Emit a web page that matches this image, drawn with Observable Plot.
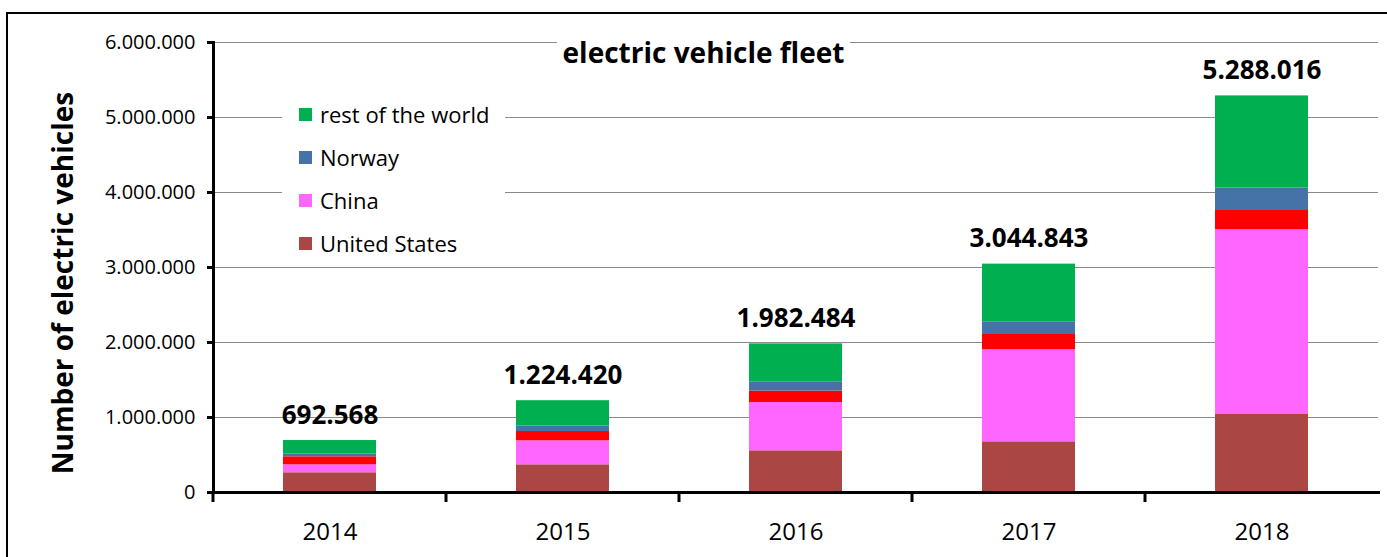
<!DOCTYPE html>
<html><head><meta charset="utf-8">
<script src="https://cdn.jsdelivr.net/npm/d3@7"></script>
<script src="https://cdn.jsdelivr.net/npm/@observablehq/plot@0.6"></script>
<style>
body{margin:0;background:#fff;font-family:"Open Sans",sans-serif;}
#wrap{position:relative;width:1387px;height:557px;overflow:hidden;background:#fff;}
#frame{position:absolute;left:6px;top:12px;width:2000px;height:2000px;border-left:2px solid #000;border-top:2px solid #000;pointer-events:none;}
#title{position:absolute;left:557px;top:35px;width:293px;height:34px;line-height:34px;background:#fff;text-align:center;font-weight:700;font-size:28px;color:#000;white-space:nowrap;}
#legend{position:absolute;left:282px;top:95px;width:223px;height:167px;background:#fff;}
.item{position:absolute;left:0;height:30px;line-height:30px;font-size:22px;color:#000;white-space:nowrap;}
.sw{position:absolute;left:17px;top:8.5px;width:13px;height:13px;}
.lab{position:absolute;left:38px;top:0;}
</style></head><body><div id="wrap"></div>
<script>
// ---- data ----
const years = ["2014", "2015", "2016", "2017", "2018"];
const unitedStates = [263000, 369000, 556000, 676000, 1040000];
const china = [106000, 320000, 644000, 1227000, 2463000];
const japan = [107000, 124000, 152000, 204000, 257000]; // red segment (not in legend)
const norway = [36000, 72000, 124000, 169000, 299000];
const restOfWorld = [181000, 339000, 506000, 769000, 1229000];
const totals = [692568, 1224420, 1982484, 3044843, 5288016];
const seriesNames = ["United States", "China", "Japan", "Norway", "rest of the world"];
const seriesColors = ["#AA4643", "#FF66FF", "#FF0000", "#4572A7", "#00B050"];
const legendItems = ["rest of the world", "Norway", "China", "United States"];
const yTicks = [0, 1000000, 2000000, 3000000, 4000000, 5000000, 6000000];
const chartTitle = "electric vehicle fleet";
const yTitle = "Number of electric vehicles";

const seriesValues = [unitedStates, china, japan, norway, restOfWorld];
const table = [];
seriesNames.forEach((s, i) => years.forEach((y, j) => table.push({year: y, series: s, value: seriesValues[i][j]})));
const totalTable = years.map((y, j) => ({year: y, total: totals[j]}));

const loc = d3.formatLocale({decimal: ",", thousands: ".", grouping: [3], currency: ["", "€"]});
const fmt = loc.format(",");

const chart = Plot.plot({
  width: 1387, height: 557,
  marginLeft: 213, marginRight: 9, marginTop: 42, marginBottom: 65,
  style: {fontFamily: "Open Sans", background: "white", color: "#000"},
  x: {domain: years, paddingInner: 0.6, paddingOuter: 0.3, axis: null},
  y: {domain: [0, 6000000], axis: null},
  color: {domain: seriesNames, range: seriesColors},
  marks: [
    Plot.ruleY(yTicks.slice(1), {stroke: "#8a8a8a", strokeWidth: 1}),
    Plot.barY(table, {x: "year", y: "value", fill: "series", order: null}),
    Plot.axisY({ticks: yTicks, tickSize: 6, tickPadding: 12, tickFormat: fmt, fontSize: 20, strokeWidth: 3, label: null}),
    Plot.axisX({tickSize: 0, tickPadding: 30, fontSize: 24, label: null}),
    Plot.frame({anchor: "left", strokeWidth: 3}),
    Plot.frame({anchor: "bottom", strokeWidth: 3}),
    Plot.text(totalTable, {x: "year", y: "total", text: d => fmt(d.total), lineAnchor: "bottom", dy: -17, fontSize: 26, fontWeight: "bold", fill: "#000"}),
    Plot.text([yTitle], {frameAnchor: "left", textAnchor: "middle", lineAnchor: "middle", rotate: -90, dx: -149.5, dy: 15.5, fontSize: 28, fontWeight: "bold", fill: "#000"})
  ]
});

// band-boundary ticks on the x axis, from the plot's own scales
const xs = chart.scale("x"), ys = chart.scale("y");
const step = xs.apply(years[1]) - xs.apply(years[0]);
const gap = step - xs.bandwidth;
const bounds = years.map(y => xs.apply(y) - gap / 2);
const y0 = ys.apply(0);
d3.select(chart).append("g").selectAll("line").data(bounds).join("line")
  .attr("x1", d => d).attr("x2", d => d).attr("y1", y0).attr("y2", y0 + 10)
  .attr("stroke", "#000").attr("stroke-width", 3);

const wrap = document.getElementById("wrap");
wrap.appendChild(chart);

const title = document.createElement("div");
title.id = "title"; title.textContent = chartTitle;
wrap.appendChild(title);

const legend = document.createElement("div");
legend.id = "legend";
legendItems.forEach((name, i) => {
  const it = document.createElement("div");
  it.className = "item";
  it.style.top = (4 + i * 43) + "px";
  const sw = document.createElement("div");
  sw.className = "sw";
  sw.style.background = seriesColors[seriesNames.indexOf(name)];
  const lab = document.createElement("div");
  lab.className = "lab"; lab.textContent = name;
  it.appendChild(sw); it.appendChild(lab);
  legend.appendChild(it);
});
wrap.appendChild(legend);

const frame = document.createElement("div");
frame.id = "frame";
wrap.appendChild(frame);
</script>
</body></html>
